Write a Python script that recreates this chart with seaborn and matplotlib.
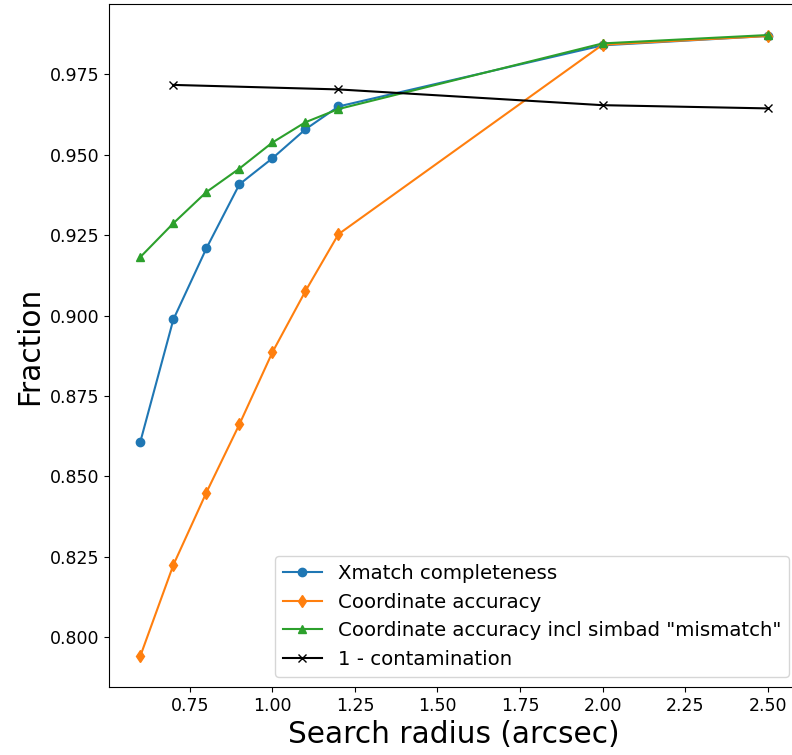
import numpy as np
import pandas as pd
import matplotlib
matplotlib.use("Agg")
import matplotlib.pyplot as plt
import seaborn as sns

radius = [0.6, 0.7, 0.8, 0.9, 1.0, 1.1, 1.2, 2.0, 2.5]
xmatch_completeness = [0.8608, 0.8988, 0.9209, 0.9408, 0.9489, 0.9579, 0.9650, 0.9840, 0.9869]
coord_accuracy = [0.7942, 0.8225, 0.8450, 0.8662, 0.8886, 0.9076, 0.9253, 0.9842, 0.9869]
coord_accuracy_simbad = [0.9182, 0.9287, 0.9384, 0.9457, 0.9538, 0.9601, 0.9642, 0.9846, 0.9872]
contam_radius = [0.7, 1.2, 2.0, 2.5]
one_minus_contamination = [0.9717, 0.9703, 0.9654, 0.9644]

labels = ["Xmatch completeness", "Coordinate accuracy",
          'Coordinate accuracy incl simbad "mismatch"', "1 - contamination"]
colors = ["#1f77b4", "#ff7f0e", "#2ca02c", "black"]
markers = ["o", "d", "^", "x"]

fig = plt.figure(figsize=(7.92, 7.55), dpi=100)
ax = fig.add_axes([109 / 792, 68 / 755, 690 / 792, 683 / 755])

series = [(radius, xmatch_completeness), (radius, coord_accuracy),
          (radius, coord_accuracy_simbad), (contam_radius, one_minus_contamination)]
for (xs, ys), lab, c, m in zip(series, labels, colors, markers):
    df = pd.DataFrame({"x": xs, "y": ys})
    sns.lineplot(data=df, x="x", y="y", ax=ax, color=c, marker=m, label=lab,
                 markeredgecolor=c, markeredgewidth=1.0, markersize=6,
                 linewidth=1.5)

ax.set_xlabel("Search radius (arcsec)", fontsize=21.3)
ax.set_ylabel("Fraction", fontsize=21.3)
ax.tick_params(labelsize=12.5)
ax.set_xticks([0.75, 1.0, 1.25, 1.5, 1.75, 2.0, 2.25, 2.5])
ax.set_yticks([0.800, 0.825, 0.850, 0.875, 0.900, 0.925, 0.950, 0.975])
ax.margins(x=0.05, y=0.05)
ax.spines["right"].set_visible(False)
ax.legend(loc="lower right", fontsize=14.2, borderaxespad=0.5)

fig.savefig("out.png", dpi=100)
